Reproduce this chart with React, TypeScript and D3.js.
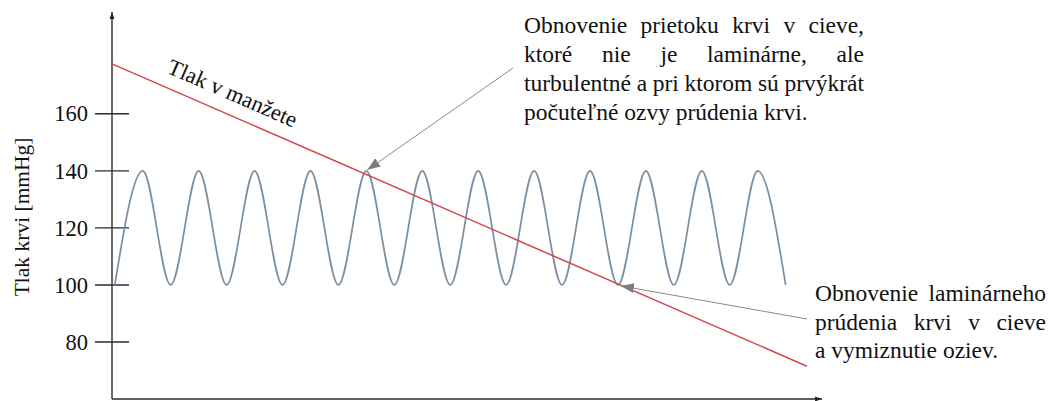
import React, { useMemo } from "react";
import * as d3 from "d3";

// Pulse wave of arterial pressure: alternating diastolic / systolic extremes (mmHg)
const pulseTimes = [0, 0.5, 1, 1.5, 2, 2.5, 3, 3.5, 4, 4.5, 5, 5.5, 6, 6.5, 7, 7.5, 8, 8.5, 9, 9.5, 10, 10.5, 11, 11.5, 12];
const pulseValues = [100, 140, 100, 140, 100, 140, 100, 140, 100, 140, 100, 140, 100, 140, 100, 140, 100, 140, 100, 140, 100, 140, 100, 140, 100];

// Cuff pressure falling linearly during deflation (mmHg)
const cuffTimes = [-0.05, 12.38];
const cuffValues = [177.5, 71.5];

const yTicks = [80, 100, 120, 140, 160];

const yAxisLabel = "Tlak krvi [mmHg]";
const cuffLabel = "Tlak v manžete";

// Annotation 1 points at the first pulse peak reached by the cuff line (systolic)
const systolicIndex = 9;
const systolicNote = [
  "Obnovenie prietoku krvi v cieve,",
  "ktoré nie je laminárne, ale",
  "turbulentné a pri ktorom sú prvýkrát",
  "počuteľné ozvy prúdenia krvi.",
];
// Annotation 2 points at the trough where the cuff line meets diastolic pressure
const diastolicIndex = 18;
const diastolicNote = ["Obnovenie laminárneho", "prúdenia krvi v cieve", "a vymiznutie oziev."];

const W = 1048;
const H = 401;
const SERIF = "Liberation Serif";
const NOTE_SIZE = 23.5;

const ctx = typeof document !== "undefined" ? document.createElement("canvas").getContext("2d") : null;
function textWidth(s: string, size: number) {
  if (!ctx) return s.length * size * 0.45;
  ctx.font = `${size}px "${SERIF}"`;
  return ctx.measureText(s).width;
}

// Lays out a justified paragraph: every line but the last is spread to the full width
function Justified({ lines, x0, x1, y0, lineHeight, size }: { lines: string[]; x0: number; x1: number; y0: number; lineHeight: number; size: number }) {
  return (
    <g style={{ fontFamily: SERIF, fontSize: size }} fill="#111">
      {lines.map((line, li) => {
        const words = line.split(" ");
        const last = li === lines.length - 1;
        const widths = words.map((w) => textWidth(w, size));
        const space = textWidth(" ", size);
        const total = widths.reduce((a, b) => a + b, 0);
        const gap = last || words.length < 2 ? space : (x1 - x0 - total) / (words.length - 1);
        let cx = x0;
        return (
          <text key={li} y={y0 + li * lineHeight}>
            {words.map((w, wi) => {
              const px = cx;
              cx += widths[wi] + gap;
              return (
                <tspan key={wi} x={px}>
                  {w}
                </tspan>
              );
            })}
          </text>
        );
      })}
    </g>
  );
}

export default function App() {
  const x = useMemo(() => d3.scaleLinear().domain([-0.05, 12.65]).range([112, 822]), []);
  const y = useMemo(() => d3.scaleLinear().domain([60, 195]).range([399, 14]), []);

  const pulse = pulseTimes.map((t, i) => [t, pulseValues[i]] as [number, number]);
  const cuff = cuffTimes.map((t, i) => [t, cuffValues[i]] as [number, number]);

  const pulsePath =
    d3
      .line<[number, number]>()
      .x((d) => x(d[0]))
      .y((d) => y(d[1]))
      .curve(d3.curveMonotoneX)(pulse) || "";
  const cuffPath =
    d3
      .line<[number, number]>()
      .x((d) => x(d[0]))
      .y((d) => y(d[1]))(cuff) || "";

  const axisX = x(-0.05);
  const axisY = y(60);
  const xEnd = x(12.65);
  const yTop = y(195) - 2;

  // cuff label follows the slope of the cuff line
  const cx0 = x(cuffTimes[0]);
  const cy0 = y(cuffValues[0]);
  const cx1 = x(cuffTimes[1]);
  const cy1 = y(cuffValues[1]);
  const angle = (Math.atan2(cy1 - cy0, cx1 - cx0) * 180) / Math.PI;
  const slope = (cy1 - cy0) / (cx1 - cx0);
  const lblX = 166;
  const lblY = cy0 + (lblX - cx0) * slope - 15;

  const sysTip: [number, number] = [x(pulseTimes[systolicIndex]), y(pulseValues[systolicIndex])];
  const diaTip: [number, number] = [x(pulseTimes[diastolicIndex]), y(pulseValues[diastolicIndex])];

  return (
    <svg
      width={W}
      height={H}
      style={{ position: "absolute", left: 0, top: 0, background: "#fff", fontFamily: SERIF }}
    >
      <defs>
        <marker id="axisHead" viewBox="0 0 10 10" refX="10" refY="5" markerWidth="7" markerHeight="7" orient="auto" markerUnits="userSpaceOnUse">
          <path d="M0,1.5 L10,5 L0,8.5 Z" fill="#222" />
        </marker>
        <marker id="noteHead" viewBox="0 0 10 10" refX="10" refY="5" markerWidth="13" markerHeight="13" orient="auto" markerUnits="userSpaceOnUse">
          <path d="M0,1.2 L10,5 L0,8.8 Z" fill="#7d7d7d" />
        </marker>
      </defs>

      {/* axes */}
      <line x1={axisX} y1={axisY} x2={axisX} y2={yTop} stroke="#2b2b2b" strokeWidth={1.4} markerEnd="url(#axisHead)" />
      <line x1={axisX} y1={axisY} x2={xEnd} y2={axisY} stroke="#2b2b2b" strokeWidth={1.4} markerEnd="url(#axisHead)" />

      {yTicks.map((v) => (
        <g key={v}>
          <line x1={axisX - 17} x2={axisX + 17} y1={y(v)} y2={y(v)} stroke="#2b2b2b" strokeWidth={1.4} />
          <text x={axisX - 24} y={y(v)} dy="0.34em" textAnchor="end" style={{ fontFamily: SERIF, fontSize: 22.5 }} fill="#111">
            {v}
          </text>
        </g>
      ))}

      <text
        transform={`translate(${29},${y(120) - 11}) rotate(-90)`}
        textAnchor="middle"
        style={{ fontFamily: SERIF, fontSize: 21.5 }}
        fill="#111"
      >
        {yAxisLabel}
      </text>

      {/* series */}
      <path d={pulsePath} fill="none" stroke="#7890a5" strokeWidth={1.7} />
      <path d={cuffPath} fill="none" stroke="#d2484e" strokeWidth={1.5} />

      <text transform={`translate(${lblX},${lblY}) rotate(${angle})`} style={{ fontFamily: SERIF, fontSize: 22.5 }} fill="#111">
        {cuffLabel}
      </text>

      {/* annotation arrows */}
      <line x1={513} y1={68} x2={sysTip[0] + 1} y2={sysTip[1] - 1} stroke="#8a8a8a" strokeWidth={1} markerEnd="url(#noteHead)" />
      <line x1={807} y1={319} x2={diaTip[0] + 3} y2={diaTip[1] + 1} stroke="#8a8a8a" strokeWidth={1} markerEnd="url(#noteHead)" />

      <Justified lines={systolicNote} x0={524} x1={864} y0={33} lineHeight={29} size={NOTE_SIZE} />
      <Justified lines={diastolicNote} x0={815} x1={1046} y0={301} lineHeight={28.5} size={NOTE_SIZE} />
    </svg>
  );
}
